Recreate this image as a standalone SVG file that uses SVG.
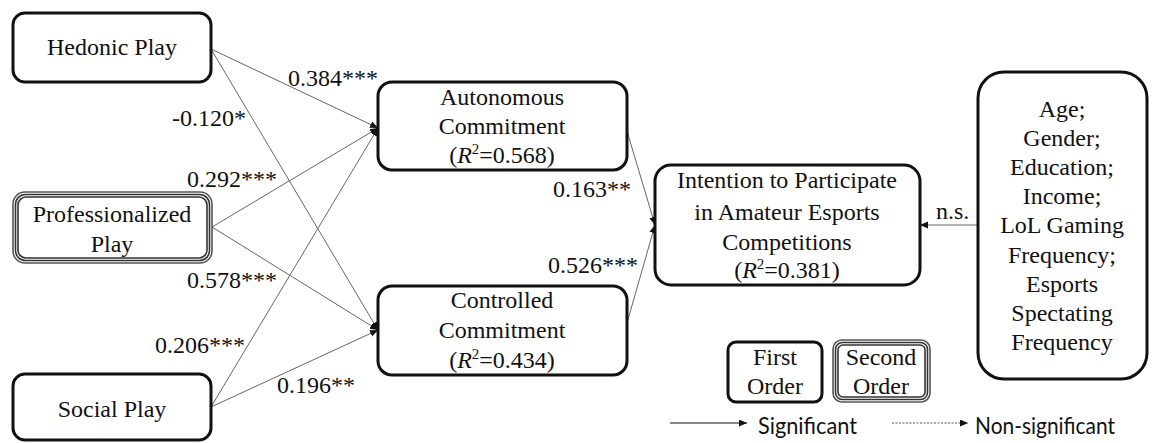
<svg xmlns="http://www.w3.org/2000/svg" width="1157" height="443" viewBox="0 0 1157 443">
<defs>
<marker id="arr" markerUnits="userSpaceOnUse" markerWidth="9" markerHeight="8" refX="8" refY="3.5" orient="auto">
<path d="M0,0 L8,3.5 L0,7 z" fill="#111"/>
</marker>
<style>
.box{fill:#fff;stroke:#111;stroke-width:3}
.dbl{fill:none;stroke:#333;stroke-width:1.6}
.t{font-family:'Liberation Serif','Times New Roman',serif;font-size:24px;fill:#111;text-anchor:middle}
.lab{font-family:'Liberation Serif','Times New Roman',serif;font-size:24px;fill:#111}
.sans{font-family:Lato,'Liberation Sans',sans-serif;font-size:23px;fill:#111}
.c{fill:none;stroke:#666;stroke-width:1;marker-end:url(#arr)}
.sup{font-size:15px}
</style>
</defs>

<g id="connectors">
<line class="c" x1="211" y1="49" x2="378" y2="128"/>
<line class="c" x1="211" y1="49" x2="378" y2="330"/>
<line class="c" x1="212" y1="227" x2="378" y2="128"/>
<line class="c" x1="212" y1="227" x2="378" y2="330"/>
<line class="c" x1="211" y1="407" x2="378" y2="128"/>
<line class="c" x1="211" y1="407" x2="378" y2="330"/>
<line class="c" x1="627" y1="131" x2="655" y2="225"/>
<line class="c" x1="627" y1="323" x2="655" y2="225"/>
<line class="c" x1="978" y1="225" x2="920" y2="225"/>
</g>

<g id="labels">
<text class="lab" x="288" y="86">0.384***</text>
<text class="lab" x="172" y="126">-0.120*</text>
<text class="lab" x="187" y="187">0.292***</text>
<text class="lab" x="187" y="288">0.578***</text>
<text class="lab" x="155" y="353">0.206***</text>
<text class="lab" x="277" y="393">0.196**</text>
<text class="lab" x="553" y="197">0.163**</text>
<text class="lab" x="548" y="273">0.526***</text>
<text class="lab" x="936" y="219">n.s.</text>
</g>

<g id="hedonic">
<rect class="box" x="13" y="13" width="198" height="69" rx="12"/>
<text class="t" x="112" y="55">Hedonic Play</text>
</g>

<g id="professionalized">
<rect x="13" y="192" width="199" height="71" rx="12" fill="#fff" stroke="#555" stroke-width="1.6"/>
<rect class="dbl" x="15.5" y="194.5" width="194" height="66" rx="10" stroke="#aaa"/>
<rect class="dbl" x="18" y="197" width="189" height="61" rx="8"/>
<text class="t" x="112" y="222">Professionalized</text>
<text class="t" x="112" y="252">Play</text>
</g>

<g id="social">
<rect class="box" x="13" y="374" width="198" height="66" rx="12"/>
<text class="t" x="112" y="417">Social Play</text>
</g>

<g id="autonomous">
<rect class="box" x="378" y="82" width="249" height="88" rx="14"/>
<text class="t" x="502" y="105">Autonomous</text>
<text class="t" x="502" y="134">Commitment</text>
<text class="t" x="502" y="163">(<tspan font-style="italic">R</tspan><tspan class="sup" dy="-9">2</tspan><tspan dy="9">=0.568)</tspan></text>
</g>

<g id="controlled">
<rect class="box" x="378" y="286" width="249" height="89" rx="14"/>
<text class="t" x="502" y="308">Controlled</text>
<text class="t" x="502" y="338">Commitment</text>
<text class="t" x="502" y="368">(<tspan font-style="italic">R</tspan><tspan class="sup" dy="-9">2</tspan><tspan dy="9">=0.434)</tspan></text>
</g>

<g id="intention">
<rect class="box" x="655" y="165" width="265" height="120" rx="16"/>
<text class="t" x="787" y="188">Intention to Participate</text>
<text class="t" x="787" y="220">in Amateur Esports</text>
<text class="t" x="787" y="250">Competitions</text>
<text class="t" x="787" y="278">(<tspan font-style="italic">R</tspan><tspan class="sup" dy="-9">2</tspan><tspan dy="9">=0.381)</tspan></text>
</g>

<g id="controls">
<rect class="box" x="978" y="72" width="169" height="307" rx="26"/>
<text class="t" x="1062" y="117">Age;</text>
<text class="t" x="1062" y="146">Gender;</text>
<text class="t" x="1062" y="175">Education;</text>
<text class="t" x="1062" y="204">Income;</text>
<text class="t" x="1062" y="233">LoL Gaming</text>
<text class="t" x="1062" y="263">Frequency;</text>
<text class="t" x="1062" y="292">Esports</text>
<text class="t" x="1062" y="321">Spectating</text>
<text class="t" x="1062" y="350">Frequency</text>
</g>

<g id="legend-first">
<rect class="box" x="728" y="342" width="94" height="60" rx="8"/>
<text class="t" x="775" y="365">First</text>
<text class="t" x="775" y="394">Order</text>
</g>

<g id="legend-second">
<rect x="833" y="340" width="97" height="62" rx="9" fill="#fff" stroke="#555" stroke-width="1.6"/>
<rect class="dbl" x="835.5" y="342.5" width="92" height="57" rx="7" stroke="#aaa"/>
<rect class="dbl" x="838" y="345" width="87" height="52" rx="5"/>
<text class="t" x="881" y="365">Second</text>
<text class="t" x="881" y="394">Order</text>
</g>

<g id="legend-lines">
<line x1="670" y1="423" x2="747" y2="423" stroke="#111" stroke-width="1" marker-end="url(#arr)"/>
<text class="sans" x="758" y="434" textLength="99" lengthAdjust="spacingAndGlyphs">Significant</text>
<line x1="892" y1="423" x2="968" y2="423" stroke="#555" stroke-width="1" stroke-dasharray="2,1.5" marker-end="url(#arr)"/>
<text class="sans" x="975" y="434" textLength="140" lengthAdjust="spacingAndGlyphs">Non-significant</text>
</g>
</svg>
